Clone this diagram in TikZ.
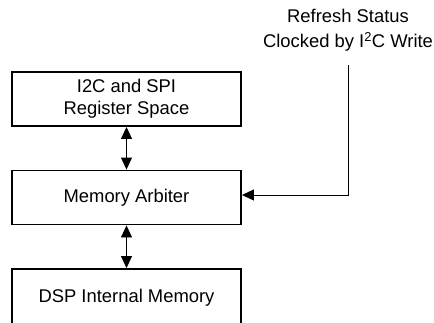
\documentclass[tikz,border=0pt]{standalone}
\usepackage{fontspec}
\setmainfont{Liberation Sans}
\usetikzlibrary{arrows.meta}
\begin{document}
\begin{tikzpicture}[x=1pt,y=-1pt,
  blockbox/.style={draw, line width=1.9pt, minimum width=229pt, minimum height=54pt, inner sep=0pt, align=center, font=\fontsize{18.4}{22}\selectfont},
  caption/.style={align=center, inner sep=0pt, font=\fontsize{18.4}{22}\selectfont},
  link/.style={line width=0.9pt, -{Triangle[length=12pt,width=11pt]}},
  duplex/.style={line width=0.9pt, {Triangle[length=12pt,width=11pt]}-{Triangle[length=12pt,width=11pt]}}]
\clip (0,0) rectangle (434,322);
\node[blockbox] (reg) at (126.5,99) {I2C and SPI\\Register Space};
\node[blockbox] (arb) at (126.5,197.5) {Memory Arbiter};
\node[blockbox, minimum height=57pt] (dsp) at (126.5,297.5) {DSP Internal Memory};
\node[caption] (status) at (348,30.5) {Refresh Status\\[3pt]Clocked by I\textsuperscript{2}C Write};
\coordinate (feedstart) at (348,65);
\coordinate (bend) at (348,195);
\draw[duplex] (reg.south) -- (arb.north);
\draw[duplex] (arb.south) -- (dsp.north);
\draw[link] (feedstart) -- (bend) -- (arb.east |- bend);
\end{tikzpicture}
\end{document}
